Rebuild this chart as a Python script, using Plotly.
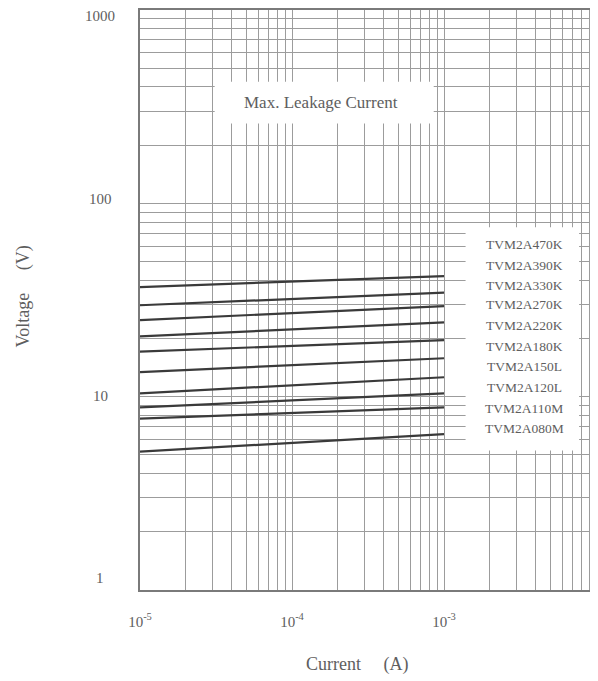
import math
import plotly.graph_objects as go

# Data
current = [1e-5, 1e-3]
series_names = ["TVM2A470K", "TVM2A390K", "TVM2A330K", "TVM2A270K", "TVM2A220K",
                "TVM2A180K", "TVM2A150L", "TVM2A120L", "TVM2A110M", "TVM2A080M"]
v_470K = [36.9, 42.0]
v_390K = [29.7, 34.5]
v_330K = [24.9, 29.4]
v_270K = [20.5, 24.2]
v_220K = [17.1, 19.6]
v_180K = [13.4, 15.8]
v_150L = [10.4, 12.6]
v_120L = [8.8, 10.4]
v_110M = [7.7, 8.8]
v_080M = [5.2, 6.4]
series_values = [v_470K, v_390K, v_330K, v_270K, v_220K, v_180K, v_150L, v_120L, v_110M, v_080M]

x_decades = [1e-5, 1e-4, 1e-3]
x_tick_labels = ["10<sup>-5</sup>", "10<sup>-4</sup>", "10<sup>-3</sup>"]
y_decades = [1, 10, 100, 1000]
y_tick_labels = ["1", "10", "100", "1000"]

FONT = "Liberation Serif"
TXT = "#5e5e5e"
GRID = "#9c9c9c"

# page geometry (body has an 8px margin)
OFF = 8
L, R, T, B = 140, 598, 8, 590
PW, PH = R - L, B - T


def px(xp):
    return (xp - L) / PW


def py(yp):
    return (B - yp) / PH


# gridline values: every 1..9 multiple of each decade
x_grid = [m * 10.0 ** e for e in (-5, -4, -3) for m in range(1, 10)] + [1e-2]
y_grid = [m * 10.0 ** e for e in (0, 1, 2) for m in range(1, 10)] + [1000]

fig = go.Figure()
for name, vals in zip(series_names, series_values):
    fig.add_trace(go.Scatter(x=current, y=vals, mode="lines", name=name,
                             line=dict(color="#3a3a3a", width=2.2), showlegend=False))

# white boxes over the grid
fig.add_shape(type="rect", xref="paper", yref="paper", layer="above",
              x0=px(215), x1=px(435), y0=py(122), y1=py(80),
              fillcolor="white", line=dict(width=0))
fig.add_shape(type="rect", xref="paper", yref="paper", layer="above",
              x0=px(467), x1=px(581), y0=py(450), y1=py(226),
              fillcolor="white", line=dict(width=0))

ann = dict(xref="paper", yref="paper", showarrow=False, xanchor="center", yanchor="middle")

fig.add_annotation(x=px(322), y=py(101), text="Max. Leakage Current",
                   font=dict(family=FONT, size=17, color=TXT), **ann)

label_y = [243, 264, 284, 304, 325, 346, 366, 387, 408, 428]
for name, yy in zip(series_names, label_y):
    fig.add_annotation(x=px(526), y=py(yy), text=name,
                       font=dict(family=FONT, size=13.5, color=TXT), **ann)

# y tick labels (centred, as in the reference); log axis -> annotation y in log10 units
y_label_shift = [12, 1, 4, -6]
for val, lab, sh in zip(y_decades, y_tick_labels, y_label_shift):
    fig.add_annotation(x=px(100), y=math.log10(val), xref="paper", yref="y", yshift=sh, text=lab,
                       showarrow=False, xanchor="center", yanchor="middle",
                       font=dict(family=FONT, size=15, color=TXT))

fig.add_annotation(x=px(358), y=py(665), text="Current &nbsp;&nbsp;&nbsp;&nbsp;(A)",
                   font=dict(family=FONT, size=18, color=TXT), **ann)
fig.add_annotation(x=px(22), y=py(296), text="Voltage &nbsp;&nbsp;&nbsp;&nbsp;(V)", textangle=-90,
                   font=dict(family=FONT, size=18, color=TXT), **ann)

fig.update_xaxes(type="log", range=[-5, -2], tickmode="array", tickvals=x_decades,
                 ticktext=x_tick_labels,
                 showgrid=True, gridcolor=GRID, gridwidth=1, ticks="", zeroline=False,
                 minor=dict(tickmode="array", tickvals=x_grid, showgrid=True,
                            gridcolor=GRID, gridwidth=1, ticks=""),
                 showline=True, linecolor="#7a7a7a", linewidth=1.5, mirror=True,
                 ticklabelstandoff=17, tickfont=dict(family=FONT, size=15, color=TXT))
fig.update_yaxes(type="log", range=[0, 3], tickmode="array", tickvals=y_decades,
                 showticklabels=False,
                 showgrid=True, gridcolor=GRID, gridwidth=1, ticks="", zeroline=False,
                 minor=dict(tickmode="array", tickvals=y_grid, showgrid=True,
                            gridcolor=GRID, gridwidth=1, ticks=""),
                 showline=True, linecolor="#7a7a7a", linewidth=1.5, mirror=True)

fig.update_layout(width=598 - OFF, height=681 - OFF,
                  margin=dict(l=L - OFF, r=0, t=T - OFF, b=681 - B),
                  plot_bgcolor="white", paper_bgcolor="white")

fig.write_html("out.html")
